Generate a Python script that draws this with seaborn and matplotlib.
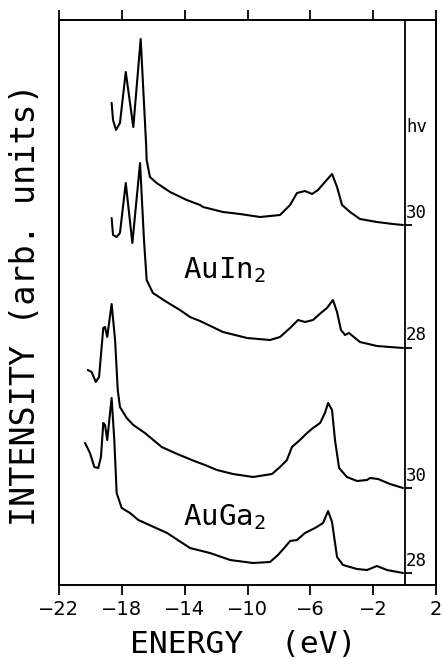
import numpy as np
import pandas as pd
import matplotlib
matplotlib.use("Agg")
import matplotlib.pyplot as plt
import seaborn as sns

# ---- data (energy in eV, intensity in arb. units) ----
e_auin_30 = [-18.65, -18.56, -18.37, -18.12, -17.75, -17.27, -16.80, -16.45, -16.42, -16.21,
             -15.78, -14.93, -13.87, -13.02, -12.83, -11.56, -10.48, -9.20, -7.93, -7.29,
             -6.85, -6.34, -5.89, -5.51, -5.07, -4.62, -4.30, -3.98, -3.47, -2.84, -1.76, -0.74, -0.10]
i_auin_30 = [48.2, 46.5, 45.5, 46.2, 51.3, 45.8, 54.6, 43.9, 42.5, 40.8,
             40.2, 39.3, 38.5, 38.0, 37.8, 37.3, 37.1, 36.8, 37.0, 38.0,
             39.2, 39.4, 39.1, 39.5, 40.3, 41.1, 39.8, 38.0, 37.3, 36.6, 36.3, 36.1, 36.0]

e_auin_28 = [-18.65, -18.56, -18.33, -18.12, -17.75, -17.33, -16.84, -16.59, -16.42, -16.02,
             -15.14, -14.30, -13.66, -13.02, -11.56, -10.03, -8.57, -7.93, -7.29, -6.78,
             -6.34, -5.83, -5.26, -4.94, -4.56, -4.30, -4.05, -3.79, -3.54, -2.84, -1.76, -0.10]
i_auin_28 = [36.7, 35.0, 34.8, 35.2, 40.2, 34.2, 42.2, 34.5, 30.5, 29.2,
             28.3, 27.5, 26.8, 26.4, 25.3, 24.7, 24.5, 24.8, 25.7, 26.5,
             26.3, 26.5, 27.3, 27.7, 28.5, 27.3, 25.5, 25.0, 25.2, 24.3, 23.9, 23.7]

e_auga_30 = [-20.17, -19.92, -19.66, -19.45, -19.18, -19.07, -18.93, -18.65, -18.43, -18.26,
             -18.12, -17.69, -17.27, -16.53, -15.46, -14.62, -13.55, -12.71, -11.94, -10.92,
             -9.65, -8.44, -7.93, -7.49, -7.17, -6.66, -6.21, -5.83, -5.38, -5.07,
             -4.87, -4.62, -4.43, -4.17, -3.67, -3.03, -2.39, -2.20, -1.69, -0.93, -0.10]
i_auga_30 = [21.5, 21.3, 20.3, 20.8, 25.7, 25.8, 24.8, 28.1, 24.5, 19.5,
             17.8, 16.7, 16.0, 15.2, 13.8, 13.2, 12.5, 12.0, 11.5, 11.1,
             10.8, 11.1, 11.8, 12.5, 13.8, 14.5, 15.2, 15.7, 16.2, 17.2,
             18.2, 17.5, 14.5, 11.7, 10.8, 10.4, 10.5, 10.7, 10.6, 10.1, 9.7]

e_auga_28 = [-20.34, -20.03, -19.75, -19.50, -19.33, -19.18, -19.07, -18.93, -18.65, -18.48,
             -18.33, -18.01, -17.48, -16.95, -15.12, -13.66, -12.39, -11.11, -9.65, -8.57,
             -8.06, -7.61, -7.29, -6.85, -6.34, -5.70, -5.19, -4.87, -4.62, -4.30,
             -3.92, -3.03, -2.39, -1.76, -1.12, -0.10]
i_auga_28 = [14.2, 13.2, 11.8, 11.7, 12.8, 16.2, 16.0, 14.5, 18.7, 14.5,
             9.2, 7.7, 7.2, 6.5, 5.2, 3.7, 3.2, 2.5, 2.2, 2.3,
             3.0, 3.8, 4.4, 4.5, 5.2, 5.7, 6.2, 7.4, 6.3, 2.8,
             2.0, 1.6, 1.5, 1.9, 1.5, 1.2]

photon_labels = ["30", "28", "30", "28"]
material_labels = ["AuIn$_\\mathregular{2}$", "AuGa$_\\mathregular{2}$"]
x_ticks = [-22, -18, -14, -10, -6, -2, 2]

curves = [(e_auin_30, i_auin_30), (e_auin_28, i_auin_28),
          (e_auga_30, i_auga_30), (e_auga_28, i_auga_28)]

sns.set_style("ticks")
plt.rcParams["font.family"] = ["DejaVu Sans"]
plt.rcParams["text.color"] = "black"
plt.rcParams["xtick.color"] = "black"
plt.rcParams["axes.labelcolor"] = "black"
plt.rcParams["axes.edgecolor"] = "black"

MONO = ["DejaVu Sans Mono"]

fig = plt.figure(figsize=(4.43, 6.58), dpi=100)
ax = fig.add_axes([59 / 443, 1 - 585 / 658, 377 / 443, 565 / 658])

for k, (e, i) in enumerate(curves):
    df = pd.DataFrame({"E": e, "I": i})
    sns.lineplot(data=df, x="E", y="I", ax=ax, color="black", lw=1.5,
                 estimator=None, sort=False)
    # end tick and photon-energy label at the Fermi level
    ax.hlines(i[-1], 0, 0.5, color="black", lw=1.3)
    ax.text(0.1, i[-1] + 0.35, photon_labels[k], fontsize=12.5, family=MONO,
            ha="left", va="bottom")

ax.text(0.1, 45.8, "hv", fontsize=12.5, family=MONO, ha="left", va="center")
ax.text(-14.1, 30.7, material_labels[0], fontsize=21, family=MONO, ha="left", va="baseline")
ax.text(-14.1, 6.0, material_labels[1], fontsize=21, family=MONO, ha="left", va="baseline")

ax.axvline(0, color="black", lw=1.3)

ax.set_xlim(-22, 2)
ax.set_ylim(0, 56.5)
ax.set_xticks(x_ticks)
ax.set_xticklabels([str(t).replace("-", "\u2212") for t in x_ticks], fontsize=14)
ax.set_yticks([])
ax.tick_params(axis="x", which="both", top=True, bottom=True, direction="out",
               length=7, width=1.3, pad=4)
for s in ax.spines.values():
    s.set_linewidth(1.4)
    s.set_color("black")

ax.set_xlabel("ENERGY  (eV)", fontsize=22.5, family=MONO)
ax.xaxis.label.set_va("center")
ax.xaxis.set_label_coords(0.488, -0.106)
ax.set_ylabel("INTENSITY (arb. units)", fontsize=24, family=MONO)
ax.yaxis.label.set_va("center")
ax.yaxis.set_label_coords(-0.09, 0.496)

fig.savefig("out.png", dpi=100)
